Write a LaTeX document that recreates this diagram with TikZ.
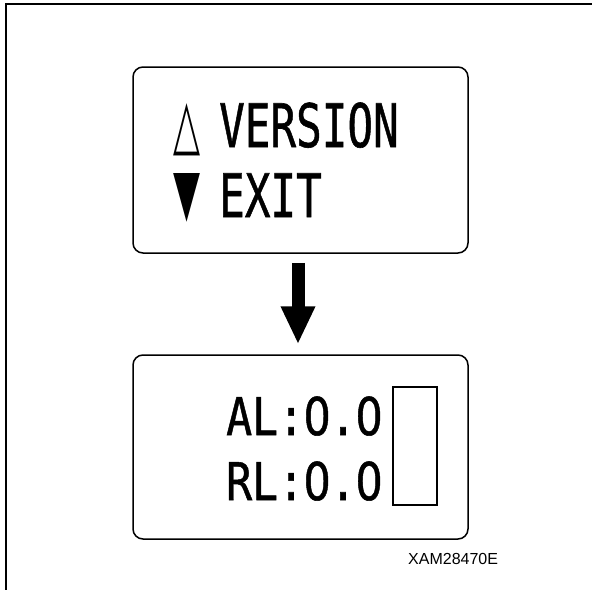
\documentclass[tikz,border=0pt]{standalone}
\usepackage{fontspec}
\setmainfont{Liberation Sans}
\newfontfamily\lcdfont[FakeBold=1]{DejaVu Sans Mono}
\newfontfamily\lcdzerofont[FakeBold=1]{DejaVu Sans}
\newfontfamily\symfont{DejaVu Sans}
\newcommand\lcdzero{\makebox[0.602em][c]{\lcdzerofont 0}}
\usetikzlibrary{arrows.meta}
\begin{document}
\begin{tikzpicture}[x=1pt,y=-1pt,
  panel/.style={draw, line width=1.5pt, rounded corners=10pt, minimum width=335pt, minimum height=186pt, inner sep=0pt},
  big/.style={inner sep=0pt, anchor=base west, font=\lcdfont\fontsize{60}{60}\selectfont},
  mid/.style={inner sep=0pt, anchor=base west, font=\lcdfont\fontsize{52}{52}\selectfont},
  sym/.style={inner sep=0pt, anchor=north west},
  flow/.style={-{Triangle[width=32pt,length=38pt]}, line width=13pt}
]
\useasboundingbox (0,0) rectangle (592,590);
\fill[white] (0,0) rectangle (592,590);
\draw[line width=2pt] (592,4) -- (6,4) -- (6,590);

\node[panel] (menu) at (300.5,160) {};
\node[panel, minimum height=184pt] (disp) at (300.5,447) {};

\node[sym] (up) at (173,103) {\resizebox{27pt}{44pt}{\symfont △}};
\node[sym] (down) at (173,173) {\resizebox{27pt}{41pt}{\symfont ▼}};
\node[big] (ver) at (219,147) {\scalebox{0.71}[1]{VERSION}};
\node[big] (exit) at (219,217) {\scalebox{0.71}[1]{EXIT}};

\draw[flow, shorten <=9pt, shorten >=10pt] (menu.south -| 298,0) -- (disp.north -| 298,0);

\node[mid] (al) at (226,435) {\scalebox{0.83}[1]{AL:\lcdzero.\lcdzero}};
\node[mid] (rl) at (226,500) {\scalebox{0.83}[1]{RL:\lcdzero.\lcdzero}};
\node[draw, line width=1.5pt, minimum width=44pt, minimum height=118pt, inner sep=0pt] (bar) at (415,446) {};

\node[inner sep=0pt, anchor=base west, font=\fontsize{16}{16}\selectfont] (code) at (408,564) {XAM28470E};
\end{tikzpicture}
\end{document}
